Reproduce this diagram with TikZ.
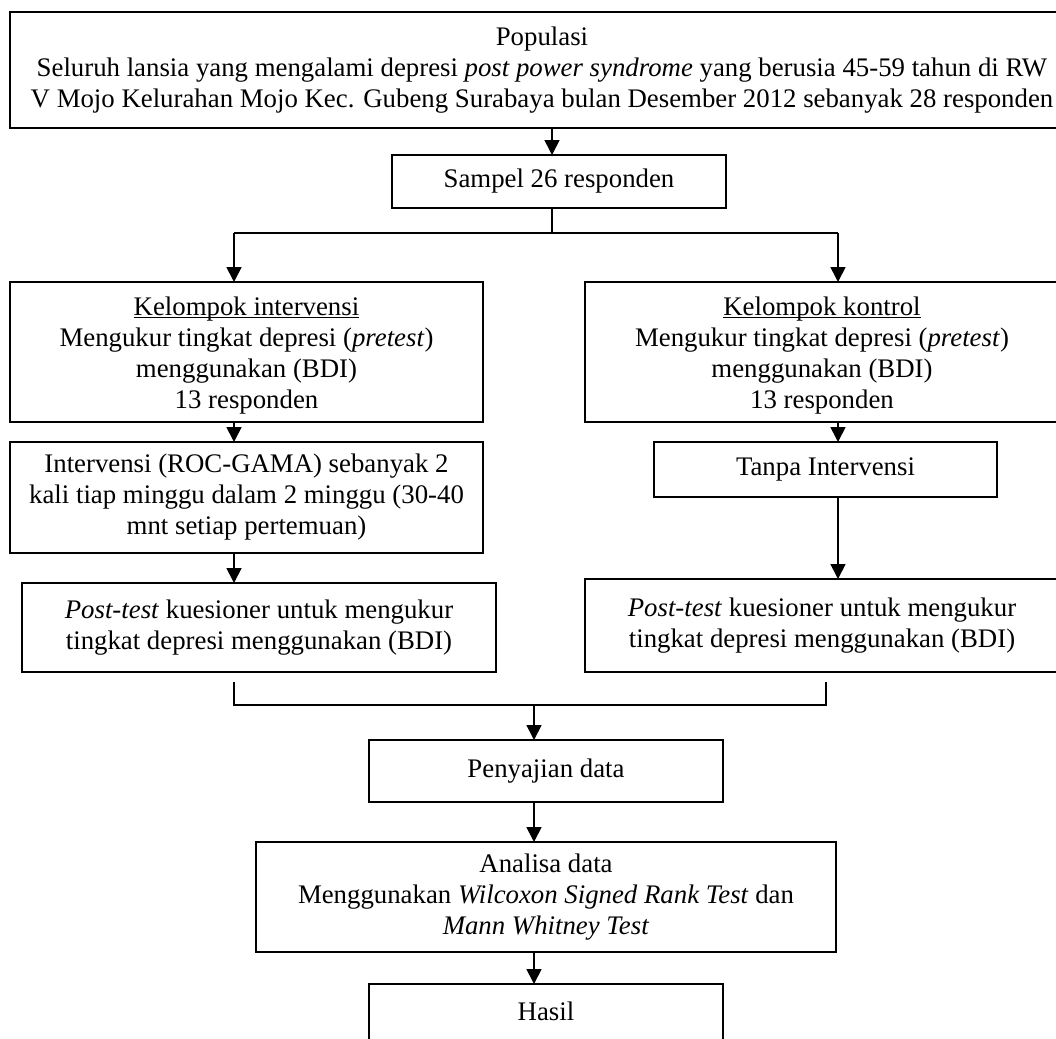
\documentclass[tikz,border=0pt]{standalone}
\usepackage{fontspec}
\setmainfont{Liberation Serif}
\usetikzlibrary{arrows.meta,calc}
\newcommand\wordul[1]{\underline{\raisebox{0pt}[\height][0pt]{#1}}}
\begin{document}
\begin{tikzpicture}[x=1pt,y=-1pt,
  box/.style={draw, line width=1.7pt, align=center, inner sep=0pt, outer sep=0pt, anchor=north west,
     font=\fontsize{26.8}{31}\selectfont},
  txt/.style={align=center, inner sep=0pt, font=\fontsize{26.8}{31}\selectfont},
  conn/.style={line width=1.7pt},
  arr/.style={line width=1.7pt, -{Triangle[length=15pt,width=15pt]}}]
\useasboundingbox (0,0) rectangle (1056,1038);
\fill[white] (0,0) rectangle (1056,1038);
\clip (0,0) rectangle (1056,1038);

\node[box, minimum width=1064pt, minimum height=116pt] (pop) at (10,12)
  {Populasi\\Seluruh lansia yang mengalami depresi \textit{post power syndrome} yang berusia 45-59 tahun di RW\\V Mojo Kelurahan Mojo Kec. Gubeng Surabaya bulan Desember 2012 sebanyak 28 responden};
\node[box, minimum width=334pt, minimum height=53pt] (sam) at (392,155) {Sampel 26 responden};

\node[box, minimum width=473pt, minimum height=140pt] (ki) at (10,282) {};
\node[txt] (kit) at ($(ki.center)+(0,4)$)
  {\wordul{Kelompok intervensi}\\Mengukur tingkat depresi (\textit{pretest})\\menggunakan (BDI)\\13 responden};
\node[box, minimum width=474pt, minimum height=140pt] (kk) at (585,282) {};
\node[txt] (kkt) at ($(kk.center)+(0,4)$)
  {\wordul{Kelompok kontrol}\\Mengukur tingkat depresi (\textit{pretest})\\menggunakan (BDI)\\13 responden};

\node[box, minimum width=473pt, minimum height=111pt] (iv) at (10,442)
  {Intervensi (ROC-GAMA) sebanyak 2\\kali tiap minggu dalam 2 minggu (30-40\\mnt setiap pertemuan)};
\node[box, minimum width=343pt, minimum height=55pt] (tp) at (654,442) {Tanpa Intervensi};

\node[box, minimum width=474pt, minimum height=89pt] (pl) at (22,583)
  {\textit{Post-test} kuesioner untuk mengukur\\tingkat depresi menggunakan (BDI)};
\node[box, minimum width=474pt, minimum height=93pt] (pr) at (585,579)
  {\textit{Post-test} kuesioner untuk mengukur\\tingkat depresi menggunakan (BDI)};

\node[box, minimum width=354pt, minimum height=62pt] (pen) at (369,740) {Penyajian data};
\node[box, minimum width=580pt, minimum height=110pt] (an) at (256,842)
  {Analisa data\\Menggunakan \textit{Wilcoxon Signed Rank Test} dan\\\textit{Mann Whitney Test}};
\node[box, minimum width=354pt, minimum height=100pt] (ha) at (369,984) {};
\node[txt, anchor=base] (hat) at (546,1020) {Hasil};

% junction coordinates
\coordinate (bM) at (552,233);
\coordinate (bL) at (234,233);
\coordinate (bR) at (838,233);
\coordinate (jL) at (234,705);
\coordinate (jR) at (826,705);
\coordinate (jM) at (534,705);

\draw[arr] (pop.south -| bM) -- (sam.north -| bM);
\draw[conn] (sam.south -| bM) -- (bM);
\draw[conn] (bL) -- (bR);
\draw[arr] (bL) -- (ki.north -| bL);
\draw[arr] (bR) -- (kk.north -| bR);
\draw[arr] (ki.south -| bL) -- (iv.north -| bL);
\draw[arr] (iv.south -| bL) -- (pl.north -| bL);
\draw[arr] (kk.south -| bR) -- (tp.north -| bR);
\draw[arr] (tp.south -| bR) -- (pr.north -| bR);
\draw[conn] ($(pl.south -| jL)+(0,10)$) -- (jL) -- (jR) -- ($(pr.south -| jR)+(0,10)$);
\draw[arr] (jM) -- (pen.north -| jM);
\draw[arr] (pen.south -| jM) -- (an.north -| jM);
\draw[arr] (an.south -| jM) -- (ha.north -| jM);
\end{tikzpicture}
\end{document}
